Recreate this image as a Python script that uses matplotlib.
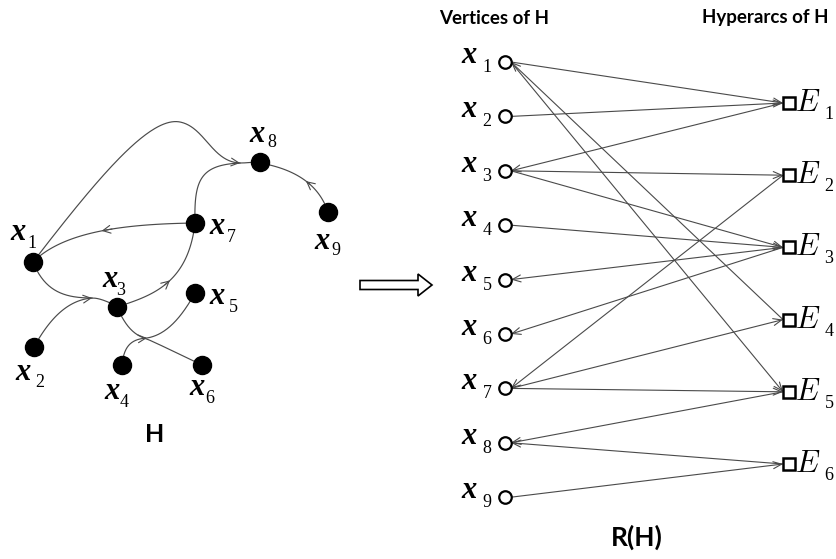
import numpy as np
import matplotlib
matplotlib.use('Agg')
import matplotlib.pyplot as plt
from matplotlib.patches import FancyArrow

# ---------------- data ----------------
vertex_ids = ['1', '2', '3', '4', '5', '6', '7', '8', '9']
hyperarc_ids = ['1', '2', '3', '4', '5', '6']
# arcs of the bipartite representation R(H): (tail, head)
rh_arcs = [('x1', 'E1'), ('x2', 'E1'), ('E1', 'x3'),
           ('x3', 'E2'), ('E2', 'x7'),
           ('x3', 'E3'), ('x4', 'E3'), ('E3', 'x5'), ('E3', 'x6'),
           ('x7', 'E4'), ('E4', 'x1'),
           ('x1', 'E5'), ('x7', 'E5'), ('E5', 'x8'),
           ('x9', 'E6'), ('E6', 'x8')]
title_left = 'H'
title_right = 'R(H)'
col_titles = ['Vertices of H', 'Hyperarcs of H']

# ---------------- layout (pixel space) ----------------
H_pos = {'1': (33, 262), '2': (34, 347), '3': (117, 307), '4': (122, 365),
         '5': (195, 293), '6': (202, 365), '7': (195, 223), '8': (260, 162),
         '9': (328, 212)}
H_lab = {'1': (18, 240, 32, 248), '2': (23, 380, 40, 387), '3': (110, 287, 121, 295),
         '4': (112, 399, 124, 407), '5': (217, 304, 233, 312), '6': (197, 395, 210, 403),
         '7': (217, 234, 231, 242), '8': (257, 142, 272, 147), '9': (322, 249, 336, 255)}
# curves of H as piecewise cubic Beziers
H_curves = {
    'x1x8': [[(33, 262), (100, 175), (150, 116), (180, 122)],
             [(180, 122), (205, 127), (212, 162), (240, 163)],
             [(240, 163), (247, 163), (253, 162), (260, 162)]],
    'x7x8': [[(195, 223), (194, 180), (200, 165), (240, 163)]],
    'x7x1': [[(195, 223), (130, 224), (65, 230), (33, 262)]],
    'x1x3': [[(33, 262), (45, 292), (65, 298), (92, 298)],
             [(92, 298), (100, 298), (108, 302), (117, 306)]],
    'x2x3': [[(34, 347), (50, 318), (68, 300), (92, 298)]],
    'x3x7': [[(117, 307), (150, 296), (188, 285), (195, 223)]],
    'x9x8': [[(328, 212), (320, 188), (300, 170), (260, 163)]],
    'x3x6': [[(117, 307), (125, 325), (133, 335), (147, 339)],
             [(147, 339), (165, 347), (185, 357), (202, 365)]],
    'x4x5': [[(122, 365), (124, 345), (132, 339), (147, 338)],
             [(147, 338), (165, 335), (180, 320), (195, 293)]],
}
H_arrows = [('x1x8', 1, 1.0), ('x7x1', 0, 0.5), ('x2x3', 0, 1.0),
            ('x3x7', 0, 0.55), ('x9x8', 0, 0.5), ('x4x5', 0, 1.0)]

R_vx, R_v0, R_vstep = 505, 62, 54.4
R_ex, R_e0, R_estep = 789, 103, 72.2

line_col = '#4a4a4a'

fig = plt.figure(figsize=(8.37, 5.59), dpi=100)
ax = fig.add_axes([0, 0, 1, 1])
ax.set_xlim(0, 837)
ax.set_ylim(559, 0)
ax.axis('off')


def bez(seg, t):
    p = np.array(seg, dtype=float)
    t = np.asarray(t)[..., None]
    return ((1 - t) ** 3 * p[0] + 3 * (1 - t) ** 2 * t * p[1]
            + 3 * (1 - t) * t ** 2 * p[2] + t ** 3 * p[3])


def chevron(p_from, p_to, lw=0.8):
    ax.annotate('', xy=p_to, xytext=p_from,
                arrowprops=dict(arrowstyle='->,head_length=0.55,head_width=0.28',
                                color=line_col, lw=lw, shrinkA=0, shrinkB=0),
                zorder=2)


ts = np.linspace(0, 1, 80)
for name, segs in H_curves.items():
    pts = np.vstack([bez(s, ts) for s in segs])
    ax.plot(pts[:, 0], pts[:, 1], color=line_col, lw=0.85, zorder=1)
for name, si, t in H_arrows:
    seg = H_curves[name][si]
    a = bez(seg, max(t - 0.06, 0))
    b = bez(seg, t)
    chevron(tuple(a), tuple(b))

for k, (x, y) in H_pos.items():
    ax.plot(x, y, 'o', ms=13, color='black', zorder=3)
    lx, ly, sx, sy = H_lab[k]
    ax.text(lx, ly, 'x', family='Liberation Serif', style='italic', weight='bold',
            fontsize=22, ha='center', va='baseline')
    ax.text(sx, sy, k, family='Liberation Serif', fontsize=13,
            ha='center', va='baseline')

ax.text(155, 435, title_left, family='Lato', weight='bold', fontsize=18,
        ha='center', va='center')

# hollow double arrow
ax.add_patch(FancyArrow(360, 285, 72, 0, width=9, head_width=22, head_length=14,
                        length_includes_head=True, fc='white', ec='black', lw=1.2))

# ---------------- R(H) ----------------
node_pt = {}
for i, v in enumerate(vertex_ids):
    y = R_v0 + i * R_vstep
    node_pt['x' + v] = (R_vx + 6, y)
    ax.plot(R_vx, y, 'o', ms=9, mfc='white', mec='black', mew=1.6, zorder=3)
    ax.text(469, y + 1, 'x', family='Liberation Serif', style='italic', weight='bold',
            fontsize=22, ha='center', va='baseline')
    ax.text(487, y + 10, v, family='Liberation Serif', fontsize=13,
            ha='center', va='baseline')
for j, e in enumerate(hyperarc_ids):
    y = R_e0 + j * R_estep
    node_pt['E' + e] = (R_ex - 6, y)
    ax.plot(R_ex, y, 's', ms=8.5, mfc='white', mec='black', mew=1.8, zorder=3)
    ax.text(808, y + 8, r'$E$', math_fontfamily='cm', fontsize=22,
            ha='center', va='baseline')
    ax.text(829, y + 16, e, family='Liberation Serif', fontsize=13,
            ha='center', va='baseline')

for a, b in rh_arcs:
    pa, pb = node_pt[a], node_pt[b]
    ax.annotate('', xy=pb, xytext=pa,
                arrowprops=dict(arrowstyle='->,head_length=0.6,head_width=0.25',
                                color=line_col, lw=0.8, shrinkA=0, shrinkB=0),
                zorder=2)

ax.text(494, 18, col_titles[0], family='Lato', weight='bold', fontsize=13.5,
        ha='center', va='center')
ax.text(765, 18, col_titles[1], family='Lato', weight='bold', fontsize=13.5,
        ha='center', va='center')
ax.text(637, 537, title_right, family='Lato', weight='bold', fontsize=19,
        ha='center', va='center')

fig.savefig('out.png', dpi=100)
